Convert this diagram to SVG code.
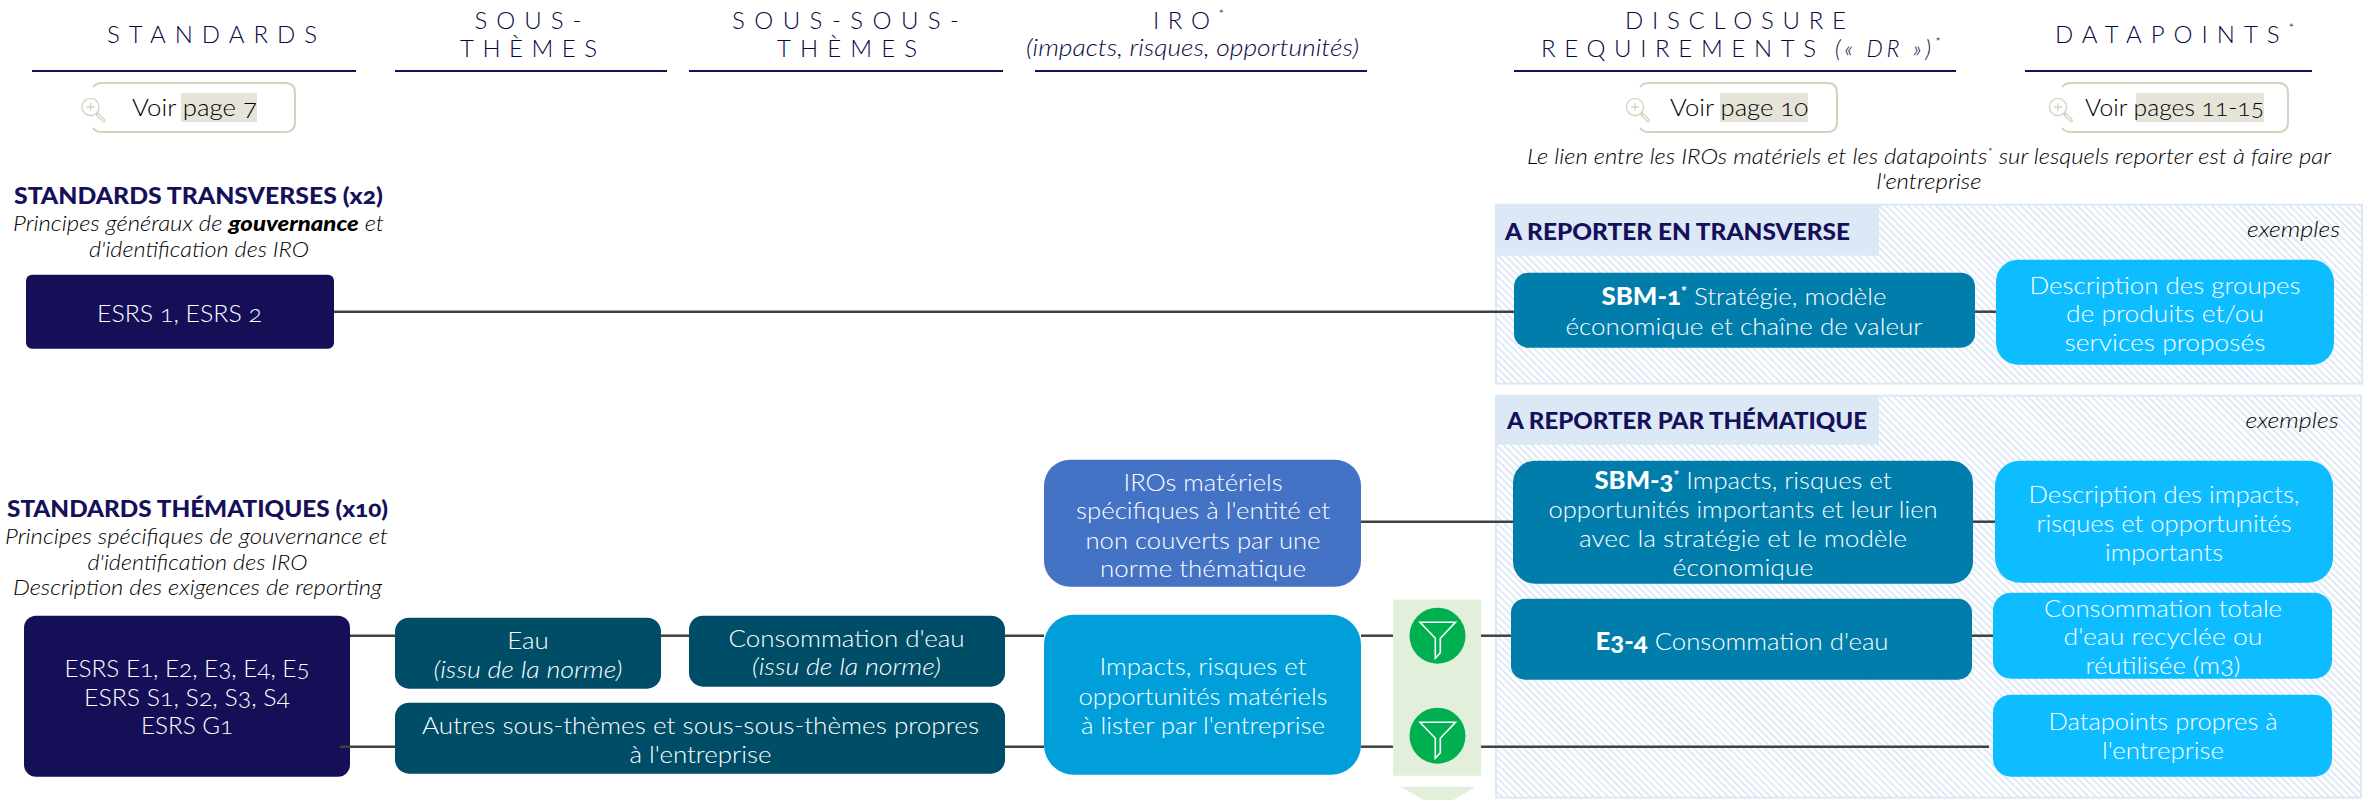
<svg xmlns="http://www.w3.org/2000/svg" xmlns:xlink="http://www.w3.org/1999/xlink" width="2364" height="800" viewBox="0 0 2364 800">
<style>
text{font-family:"Lato","Open Sans","Liberation Sans",sans-serif;font-variant-numeric:oldstyle-nums}
.b{font-size:24px;fill:#fff;font-weight:300;text-anchor:middle;transform:translateY(1px)}
.h{font-size:24px;fill:#0a0640;font-weight:300;text-anchor:middle}
.hi{font-size:23px;fill:#0a0640;font-style:italic;font-weight:300;text-anchor:middle}
.t{font-size:23px;fill:#15105a;font-weight:900;text-anchor:middle;transform:translateY(1px)}
.i{font-size:21px;fill:#000;font-style:italic;font-weight:300;text-anchor:middle;transform:translateY(1px)}
.v{font-size:24px;fill:#000;font-weight:300}
.s{font-weight:900}
.navy{fill:#150f57}.teal{fill:#004d67}.dr{fill:#007dab}.dp{fill:#0dbdff}.iro{fill:#009fd9}.iros{fill:#4472c4}
.rule{stroke:#15105a;stroke-width:2}
.c{stroke:#404040;stroke-width:2.5;fill:none}
.btn{fill:#fff;stroke:#d9d1c0;stroke-width:2}
.hl{fill:#e6e3d9}
.mag{fill:none;stroke:#d9d1c0;stroke-width:1.3}
.panel{fill:url(#hatch);stroke:#dde8f5;stroke-width:2}
.phead{fill:#dce8f5}
.funnel{fill:none;stroke:#fff;stroke-width:1.6}
</style>
<defs>
<pattern id="hatch" width="5" height="5" patternUnits="userSpaceOnUse" patternTransform="rotate(45)">
<rect width="5" height="5" fill="#fff"/><rect width="5" height="1.8" fill="#dde8f5"/>
</pattern>
<g id="magnifier" class="mag">
<circle cx="0" cy="0" r="8.6"/><path d="M-4,0H4M0,-4V4M6,6.5L7.5,8M7,5.5L14,12.5Q15,15 12.5,14.5L6,8Z"/>
</g>
<g id="funnel" class="funnel">
<path d="M-17.5,-13.5H18L2.8,2.5V17L-2.2,22.5V2.5Z"/>
</g>
</defs>

<g id="headers">
<text class="h" x="212" y="43" textLength="210">STANDARDS</text>
<text class="h" x="528" y="29" textLength="107">SOUS-</text>
<text class="h" x="528.5" y="57" textLength="137">THÈMES</text>
<text class="h" x="845.5" y="29" textLength="227">SOUS-SOUS-</text>
<text class="h" x="847" y="57" textLength="140">THÈMES</text>
<text class="h" x="1188.5" y="29" textLength="71">IRO<tspan font-size="13" dy="-10">*</tspan></text>
<text class="hi" x="1192.5" y="56" textLength="333" lengthAdjust="spacingAndGlyphs">(impacts, risques, opportunités)</text>
<text class="h" x="1735.5" y="29" textLength="221">DISCLOSURE</text>
<text class="h" x="1678.5" y="57" textLength="275">REQUIREMENTS</text>
<text class="hi" x="1887.5" y="57" textLength="105">(« DR »)<tspan font-size="13" dy="-10">*</tspan></text>
<text class="h" x="2174.5" y="43" textLength="239">DATAPOINTS<tspan font-size="13" dy="-10">*</tspan></text>
<line class="rule" x1="32" y1="71" x2="356" y2="71"/>
<line class="rule" x1="395" y1="71" x2="667" y2="71"/>
<line class="rule" x1="689" y1="71" x2="1003" y2="71"/>
<line class="rule" x1="1035" y1="71" x2="1367" y2="71"/>
<line class="rule" x1="1514" y1="71" x2="1956" y2="71"/>
<line class="rule" x1="2025" y1="71" x2="2312" y2="71"/>
</g>

<g id="btn-page7">
<path class="btn" d="M93,87Q96,83 102,83H285Q295,83 295,93V122Q295,132 285,132H102Q96,132 93,128"/>
<use xlink:href="#magnifier" href="#magnifier" x="90.5" y="107"/>
<rect class="hl" x="181" y="93" width="76" height="29"/>
<text class="v" x="132" y="116" textLength="125" lengthAdjust="spacingAndGlyphs">Voir page 7</text>
</g>
<g id="btn-page10">
<path class="btn" d="M1640,87Q1643,83 1649,83H1827Q1837,83 1837,93V122Q1837,132 1827,132H1649Q1643,132 1640,128"/>
<use xlink:href="#magnifier" href="#magnifier" x="1635" y="107"/>
<rect class="hl" x="1720" y="93" width="88" height="29"/>
<text class="v" x="1670" y="116" textLength="138" lengthAdjust="spacingAndGlyphs">Voir page 10</text>
</g>
<g id="btn-pages11-15">
<path class="btn" d="M2062,87Q2065,83 2071,83H2278Q2288,83 2288,93V122Q2288,132 2278,132H2071Q2065,132 2062,128"/>
<use xlink:href="#magnifier" href="#magnifier" x="2058" y="107"/>
<rect class="hl" x="2136" y="93" width="128" height="29"/>
<text class="v" x="2085" y="116" textLength="179" lengthAdjust="spacingAndGlyphs">Voir pages 11-15</text>
</g>

<g id="note">
<text class="i" x="1929" y="163" textLength="804" lengthAdjust="spacingAndGlyphs">Le lien entre les IROs matériels et les datapoints<tspan font-size="12" dy="-8">*</tspan><tspan dy="8"> sur lesquels reporter est à faire par</tspan></text>
<text class="i" x="1929" y="188" textLength="105" lengthAdjust="spacingAndGlyphs">l'entreprise</text>
</g>

<g id="body" transform="translate(0,0.7)">
<g id="panel-transverse">
<rect class="panel" x="1496" y="204" width="866" height="179"/>
<rect class="phead" x="1496" y="204" width="383" height="51"/>
<text class="t" x="1677.5" y="238" textLength="345" lengthAdjust="spacingAndGlyphs">A REPORTER EN TRANSVERSE</text>
<text class="i" x="2293.5" y="235" textLength="93" lengthAdjust="spacingAndGlyphs">exemples</text>
</g>
<g id="panel-thematique">
<rect class="panel" x="1496" y="395" width="865" height="402"/>
<rect class="phead" x="1496" y="395" width="383" height="49"/>
<text class="t" x="1687" y="427" textLength="360" lengthAdjust="spacingAndGlyphs">A REPORTER PAR THÉMATIQUE</text>
<text class="i" x="2292" y="426" textLength="93" lengthAdjust="spacingAndGlyphs">exemples</text>
</g>
<g id="filter-band">
<rect x="1393" y="599" width="88" height="176" fill="#e2efda"/>
<polygon points="1401,786 1476,786 1438.5,808" fill="#e2efda"/>
</g>

<g id="connectors">
<line class="c" x1="334" y1="311" x2="1514" y2="311"/>
<line class="c" x1="1975" y1="311" x2="1996" y2="311"/>
<line class="c" x1="1361" y1="521" x2="1513" y2="521"/>
<line class="c" x1="1973" y1="521" x2="1995" y2="521"/>
<line class="c" x1="350" y1="635" x2="395" y2="635"/>
<line class="c" x1="661" y1="635" x2="689" y2="635"/>
<line class="c" x1="1005" y1="635" x2="1044" y2="635"/>
<line class="c" x1="1361" y1="635" x2="1393" y2="635"/>
<line class="c" x1="1481" y1="635" x2="1511" y2="635"/>
<line class="c" x1="1972" y1="635" x2="1993" y2="635"/>
<line class="c" x1="1005" y1="746" x2="1044" y2="746"/>
<line class="c" x1="1361" y1="746" x2="1393" y2="746"/>
<line class="c" x1="1481" y1="746" x2="1989" y2="746"/>
</g>

<g id="title-transverses">
<text class="t" x="198.5" y="202" textLength="369" lengthAdjust="spacingAndGlyphs">STANDARDS TRANSVERSES (x2)</text>
<text class="i" x="198.5" y="229" textLength="371" lengthAdjust="spacingAndGlyphs">Principes généraux de <tspan class="s">gouvernance</tspan> et</text>
<text class="i" x="199" y="255" textLength="220" lengthAdjust="spacingAndGlyphs">d'identification des IRO</text>
</g>
<g id="title-thematiques">
<text class="t" x="197.5" y="515" textLength="381" lengthAdjust="spacingAndGlyphs">STANDARDS THÉMATIQUES (x10)</text>
<text class="i" x="196.5" y="542" textLength="383" lengthAdjust="spacingAndGlyphs">Principes spécifiques de gouvernance et</text>
<text class="i" x="197.5" y="568" textLength="220" lengthAdjust="spacingAndGlyphs">d'identification des IRO</text>
<text class="i" x="197.5" y="593" textLength="369" lengthAdjust="spacingAndGlyphs">Description des exigences de reporting</text>
</g>

<g id="esrs-transverse">
<rect class="navy" x="26" y="274" width="308" height="74" rx="6"/>
<text class="b" x="179.5" y="320" textLength="165" lengthAdjust="spacingAndGlyphs">ESRS 1, ESRS 2</text>
</g>
<g id="esrs-thematique">
<rect class="navy" x="24" y="615" width="326" height="161" rx="12"/>
<text class="b" x="187" y="675" textLength="245" lengthAdjust="spacingAndGlyphs">ESRS E1, E2, E3, E4, E5</text>
<text class="b" x="187" y="704" textLength="206" lengthAdjust="spacingAndGlyphs">ESRS S1, S2, S3, S4</text>
<text class="b" x="187" y="732" textLength="92" lengthAdjust="spacingAndGlyphs">ESRS G1</text>
<line class="c" x1="340" y1="746" x2="395" y2="746"/>
</g>
<g id="eau">
<rect class="teal" x="395" y="617" width="266" height="71" rx="14"/>
<text class="b" x="528" y="647" textLength="41.5" lengthAdjust="spacingAndGlyphs">Eau</text>
<text class="b" x="528" y="676" font-style="italic" textLength="189" lengthAdjust="spacingAndGlyphs">(issu de la norme)</text>
</g>
<g id="consommation">
<rect class="teal" x="689" y="615" width="316" height="71" rx="14"/>
<text class="b" x="846.5" y="645" textLength="236" lengthAdjust="spacingAndGlyphs">Consommation d'eau</text>
<text class="b" x="846.5" y="673" font-style="italic" textLength="189" lengthAdjust="spacingAndGlyphs">(issu de la norme)</text>
</g>
<g id="autres">
<rect class="teal" x="395" y="702" width="610" height="71" rx="14"/>
<text class="b" x="700.5" y="732" textLength="557" lengthAdjust="spacingAndGlyphs">Autres sous-thèmes et sous-sous-thèmes propres</text>
<text class="b" x="700.5" y="761" textLength="142" lengthAdjust="spacingAndGlyphs">à l'entreprise</text>
</g>
<g id="iros-specifiques">
<rect class="iros" x="1044" y="459" width="317" height="127" rx="26"/>
<text class="b" x="1203" y="489" textLength="159" lengthAdjust="spacingAndGlyphs">IROs matériels</text>
<text class="b" x="1203" y="517" textLength="254" lengthAdjust="spacingAndGlyphs">spécifiques à l'entité et</text>
<text class="b" x="1203" y="547" textLength="235" lengthAdjust="spacingAndGlyphs">non couverts par une</text>
<text class="b" x="1203" y="575" textLength="206" lengthAdjust="spacingAndGlyphs">norme thématique</text>
</g>
<g id="iros-materiels">
<rect class="iro" x="1044" y="614" width="317" height="160" rx="30"/>
<text class="b" x="1203" y="673" textLength="207" lengthAdjust="spacingAndGlyphs">Impacts, risques et</text>
<text class="b" x="1203" y="703" textLength="249" lengthAdjust="spacingAndGlyphs">opportunités matériels</text>
<text class="b" x="1203" y="732" textLength="244" lengthAdjust="spacingAndGlyphs">à lister par l'entreprise</text>
</g>
<g id="filter-1">
<circle cx="1437.5" cy="635" r="28" fill="#00b050"/>
<use xlink:href="#funnel" href="#funnel" x="1437.5" y="635"/>
</g>
<g id="filter-2">
<circle cx="1437.5" cy="735" r="28" fill="#00b050"/>
<use xlink:href="#funnel" href="#funnel" x="1437.5" y="735"/>
</g>
<g id="sbm-1">
<rect class="dr" x="1514" y="272" width="461" height="75" rx="14"/>
<text class="b" x="1744" y="303" textLength="285" lengthAdjust="spacingAndGlyphs"><tspan class="s">SBM-1</tspan><tspan font-size="13" dy="-9" class="s">*</tspan><tspan dy="9"> Stratégie, modèle</tspan></text>
<text class="b" x="1744" y="333" textLength="357" lengthAdjust="spacingAndGlyphs">économique et chaîne de valeur</text>
</g>
<g id="dp-groupes">
<rect class="dp" x="1996" y="259" width="338" height="105" rx="22"/>
<text class="b" x="2165" y="292" textLength="271" lengthAdjust="spacingAndGlyphs">Description des groupes</text>
<text class="b" x="2165" y="320" textLength="198" lengthAdjust="spacingAndGlyphs">de produits et/ou</text>
<text class="b" x="2165" y="349" textLength="201" lengthAdjust="spacingAndGlyphs">services proposés</text>
</g>
<g id="sbm-3">
<rect class="dr" x="1513" y="460" width="460" height="123" rx="22"/>
<text class="b" x="1743" y="487" textLength="297" lengthAdjust="spacingAndGlyphs"><tspan class="s">SBM-3</tspan><tspan font-size="13" dy="-9" class="s">*</tspan><tspan dy="9"> Impacts, risques et</tspan></text>
<text class="b" x="1743" y="516" textLength="389" lengthAdjust="spacingAndGlyphs">opportunités importants et leur lien</text>
<text class="b" x="1743" y="545" textLength="328" lengthAdjust="spacingAndGlyphs">avec la stratégie et le modèle</text>
<text class="b" x="1743" y="574" textLength="141" lengthAdjust="spacingAndGlyphs">économique</text>
</g>
<g id="dp-impacts">
<rect class="dp" x="1995" y="460" width="338" height="122" rx="25"/>
<text class="b" x="2164" y="501" textLength="271" lengthAdjust="spacingAndGlyphs">Description des impacts,</text>
<text class="b" x="2164" y="530" textLength="255" lengthAdjust="spacingAndGlyphs">risques et opportunités</text>
<text class="b" x="2164" y="559" textLength="118" lengthAdjust="spacingAndGlyphs">importants</text>
</g>
<g id="e3-4">
<rect class="dr" x="1511" y="598" width="461" height="81" rx="14"/>
<text class="b" x="1742" y="648" textLength="293" lengthAdjust="spacingAndGlyphs"><tspan class="s">E3-4</tspan> Consommation d'eau</text>
</g>
<g id="dp-consommation">
<rect class="dp" x="1993" y="592" width="339" height="86" rx="18"/>
<text class="b" x="2163" y="615" textLength="238" lengthAdjust="spacingAndGlyphs">Consommation totale</text>
<text class="b" x="2163" y="643" textLength="199" lengthAdjust="spacingAndGlyphs">d'eau recyclée ou</text>
<text class="b" x="2163" y="672" textLength="155" lengthAdjust="spacingAndGlyphs">réutilisée (m3)</text>
</g>
<g id="dp-propres">
<rect class="dp" x="1993" y="694" width="339" height="82" rx="18"/>
<text class="b" x="2163" y="728" textLength="229" lengthAdjust="spacingAndGlyphs">Datapoints propres à</text>
<text class="b" x="2163" y="757" textLength="122" lengthAdjust="spacingAndGlyphs">l'entreprise</text>
</g>
</g>
</svg>
